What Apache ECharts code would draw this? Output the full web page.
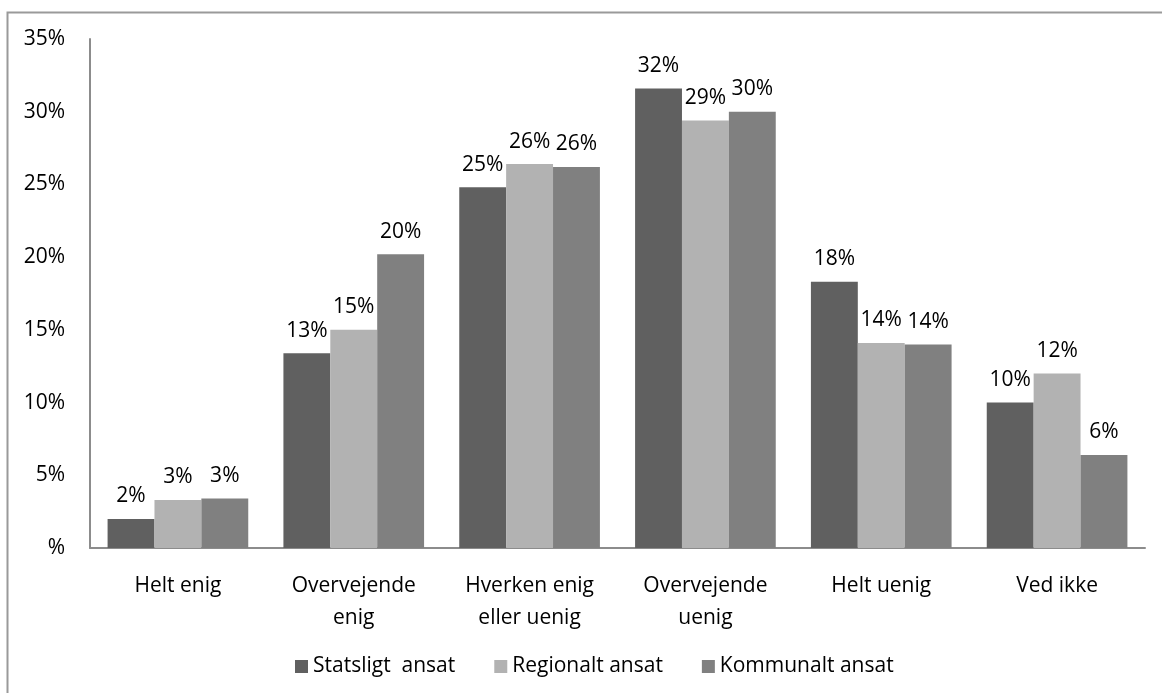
<!DOCTYPE html>
<html>
<head>
<meta charset="utf-8">
<script src="https://cdn.jsdelivr.net/npm/echarts@6/dist/echarts.min.js"></script>
<style>
  html, body { margin: 0; padding: 0; background: #fff; }
  #chart { width: 1162px; height: 693px; }
</style>
</head>
<body>
<div id="chart"></div>
<script>
// Answer categories
const categories = ['Helt enig', 'Overvejende\nenig', 'Hverken enig\neller uenig', 'Overvejende\nuenig', 'Helt uenig', 'Ved ikke'];

// Share of respondents (%) per employment sector
const statsligt = [2.0, 13.4, 24.8, 31.6, 18.3, 10.0];
const regionalt = [3.3, 15.0, 26.4, 29.4, 14.1, 12.0];
const kommunalt = [3.4, 20.2, 26.2, 30.0, 14.0, 6.4];

const seriesNames = ['Statsligt  ansat', 'Regionalt ansat', 'Kommunalt ansat'];

// Y axis ticks (%)
const yTicks = [0, 5, 10, 15, 20, 25, 30, 35];

const FONT = 'Open Sans';
const FS = 21;
const colors = ['#606060', '#b2b2b2', '#808080'];

const chart = echarts.init(document.getElementById('chart'), null, { renderer: 'canvas' });

const labelStyle = {
  show: true,
  position: 'top',
  distance: 12,
  color: '#000',
  fontFamily: FONT,
  fontSize: FS,
  formatter: p => Math.round(p.value) + '%'
};

function barSeries(name, data, color) {
  return {
    name: name,
    type: 'bar',
    data: data,
    barGap: '0%',
    barCategoryGap: '20%',
    itemStyle: { color: color },
    label: labelStyle,
    emphasis: { disabled: true }
  };
}

chart.setOption({
  animation: false,
  backgroundColor: '#fff',
  textStyle: { fontFamily: FONT },
  graphic: [{
    type: 'rect',
    shape: { x: 7.5, y: 12.5, width: 1300, height: 900 },
    style: { fill: 'none', stroke: '#9a9a9a', lineWidth: 2 },
    silent: true,
    z: -10
  }],
  grid: { left: 90, right: 17, top: 39, bottom: 145, containLabel: false },
  legend: {
    data: seriesNames,
    left: 290,
    top: 651,
    itemWidth: 13,
    itemHeight: 13,
    itemGap: 39,
    icon: 'rect',
    textStyle: { fontFamily: FONT, fontSize: FS, color: '#000' },
    selectedMode: false
  },
  xAxis: {
    type: 'category',
    data: categories,
    axisLine: { lineStyle: { color: '#8c8c8c', width: 2 } },
    axisTick: { show: false },
    axisLabel: {
      color: '#000',
      fontFamily: FONT,
      fontSize: FS,
      lineHeight: 32,
      margin: 22,
      interval: 0
    }
  },
  yAxis: {
    type: 'value',
    min: yTicks[0],
    max: yTicks[yTicks.length - 1],
    interval: yTicks[1] - yTicks[0],
    axisLine: { show: true, lineStyle: { color: '#8c8c8c', width: 2 } },
    axisTick: { show: false },
    splitLine: { show: false },
    axisLabel: {
      color: '#000',
      fontFamily: FONT,
      fontSize: FS,
      margin: 25,
      formatter: v => (v === 0 ? '%' : v + '%')
    }
  },
  series: [
    barSeries(seriesNames[0], statsligt, colors[0]),
    barSeries(seriesNames[1], regionalt, colors[1]),
    barSeries(seriesNames[2], kommunalt, colors[2])
  ]
});
</script>
</body>
</html>
